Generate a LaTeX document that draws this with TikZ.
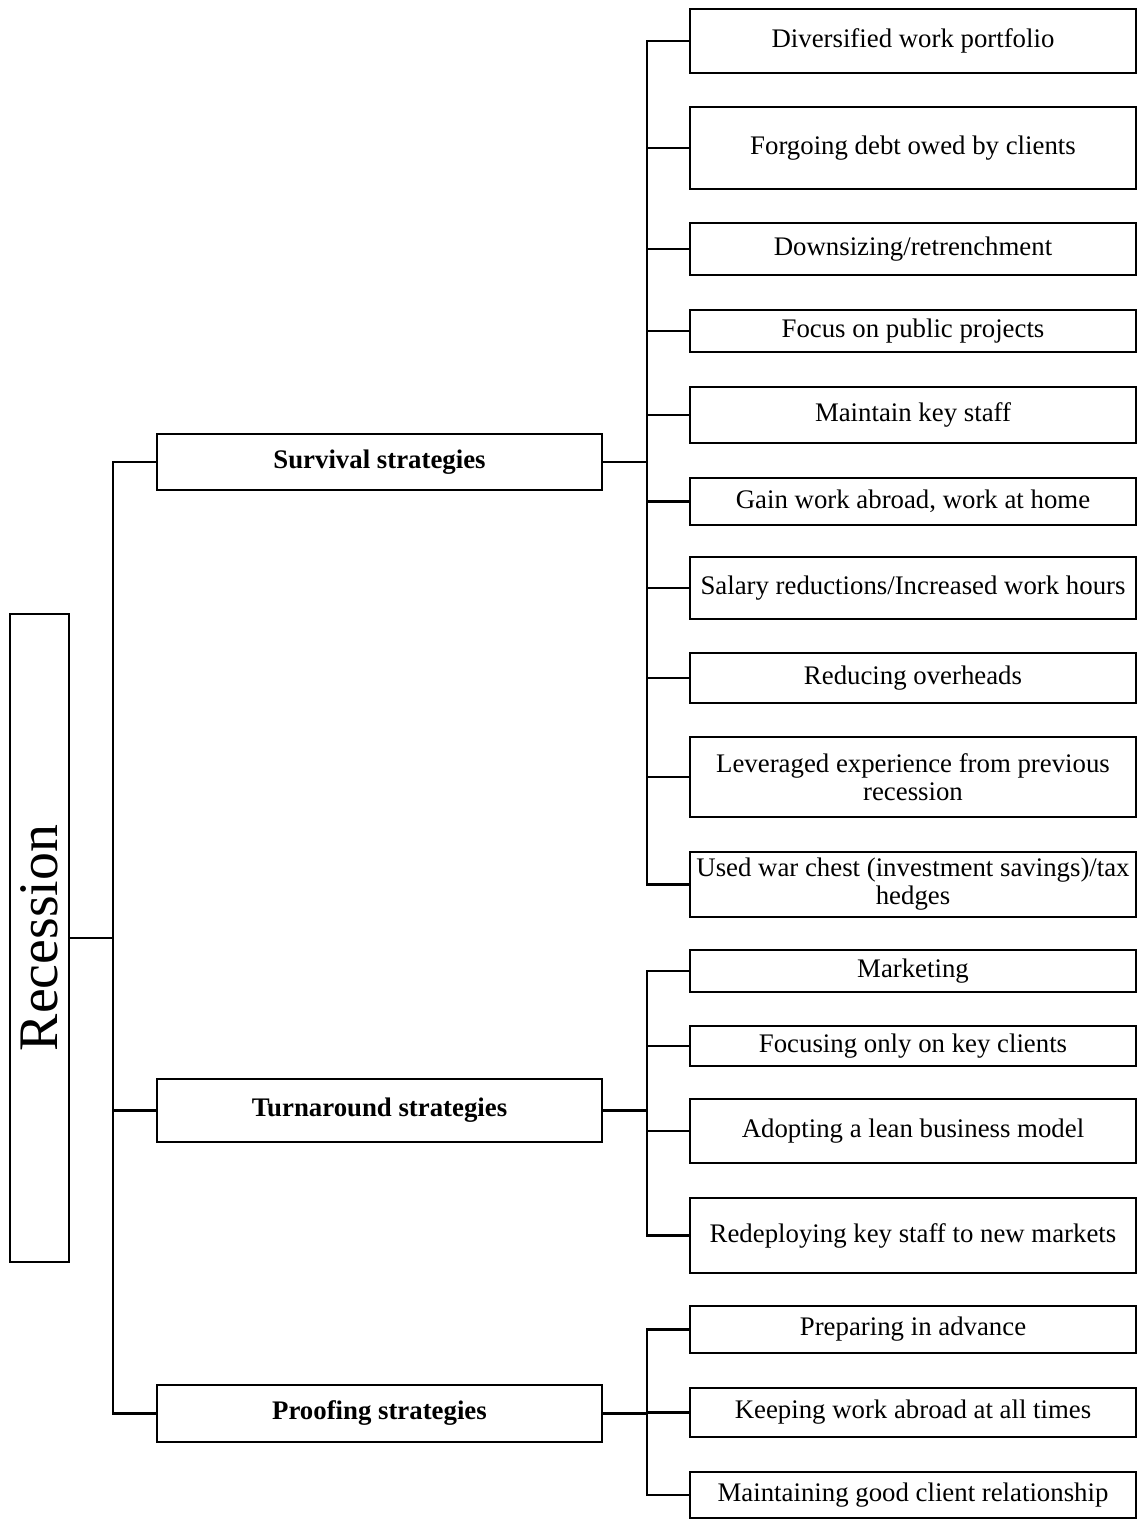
\documentclass[tikz,border=0pt]{standalone}
\usepackage{fontspec}
\setmainfont{Liberation Serif}
\begin{document}
\begin{tikzpicture}[x=0.5pt,y=-0.5pt,
  box/.style={draw=black, line width=1.4pt, inner sep=0pt, align=center,
    font=\fontsize{13.4}{14}\selectfont},
  leaf/.style={box, minimum width=223pt},
  midbox/.style={box, minimum width=222.5pt, font=\fontsize{13.4}{14}\selectfont\bfseries},
  conn/.style={line width=1.2pt, line join=miter}]
\path[use as bounding box] (0,0) rectangle (1141,1519);

% root
\node[box, minimum width=29.5pt, minimum height=324pt] (rec) at (39.5,938)
  {\rotatebox{90}{\fontsize{27.9}{30}\selectfont Recession}};

% strategy groups
\node[midbox, minimum height=28pt]   (surv)  at (379.5,462)    {Survival strategies};
\node[midbox, minimum height=31.5pt] (turn)  at (379.5,1110.5) {Turnaround strategies};
\node[midbox, minimum height=28.5pt] (proof) at (379.5,1413.5) {Proofing strategies};

% survival strategies
\node[leaf, minimum height=32pt]   (s1)  at (913,41)    {Diversified work portfolio};
\node[leaf, minimum height=41pt]   (s2)  at (913,148)   {Forgoing debt owed by clients};
\node[leaf, minimum height=26pt]   (s3)  at (913,249)   {Downsizing/retrenchment};
\node[leaf, minimum height=21pt]   (s4)  at (913,331)   {Focus on public projects};
\node[leaf, minimum height=28pt]   (s5)  at (913,415)   {Maintain key staff};
\node[leaf, minimum height=23.5pt] (s6)  at (913,501.5) {Gain work abroad, work at home};
\node[leaf, minimum height=31pt]   (s7)  at (913,588)   {Salary reductions/Increased work hours};
\node[leaf, minimum height=25pt]   (s8)  at (913,678)   {Reducing overheads};
\node[leaf, minimum height=40pt]   (s9)  at (913,777)   {Leveraged experience from previous\\recession};
\node[leaf, minimum height=32.5pt] (s10) at (913,884.5) {Used war chest (investment savings)/tax\\hedges};

% turnaround strategies
\node[leaf, minimum height=21pt]   (t1) at (913,971)    {Marketing};
\node[leaf, minimum height=20pt]   (t2) at (913,1046)   {Focusing only on key clients};
\node[leaf, minimum height=32pt]   (t3) at (913,1131)   {Adopting a lean business model};
\node[leaf, minimum height=37.5pt] (t4) at (913,1235.5) {Redeploying key staff to new markets};

% proofing strategies
\node[leaf, minimum height=23.5pt] (p1) at (913,1329.5) {Preparing in advance};
\node[leaf, minimum height=24.5pt] (p2) at (913,1412.5) {Keeping work abroad at all times};
\node[leaf, minimum height=23pt]   (p3) at (913,1495)   {Maintaining good client relationship};

% bus lines
\coordinate (lbus) at (113,0);
\coordinate (rbus) at (647,0);

% root to groups
\draw[conn] (surv.west) -- (surv.west -| lbus) -- (proof.west -| lbus) -- (proof.west);
\draw[conn] (turn.west) -- (turn.west -| lbus);
\draw[conn] (rec.east) -- (rec.east -| lbus);

% survival branch
\draw[conn] (s1.west) -- (s1.west -| rbus) -- (s10.west -| rbus) -- (s10.west);
\draw[conn] (surv.east) -- (surv.east -| rbus);
\foreach \n in {s2,s3,s4,s5,s6,s7,s8,s9}
  \draw[conn] (\n.west) -- (\n.west -| rbus);

% turnaround branch
\draw[conn] (t1.west) -- (t1.west -| rbus) -- (t4.west -| rbus) -- (t4.west);
\draw[conn] (turn.east) -- (turn.east -| rbus);
\foreach \n in {t2,t3}
  \draw[conn] (\n.west) -- (\n.west -| rbus);

% proofing branch
\draw[conn] (p1.west) -- (p1.west -| rbus) -- (p3.west -| rbus) -- (p3.west);
\draw[conn] (proof.east) -- (proof.east -| rbus);
\draw[conn] (p2.west) -- (p2.west -| rbus);
\end{tikzpicture}
\end{document}
